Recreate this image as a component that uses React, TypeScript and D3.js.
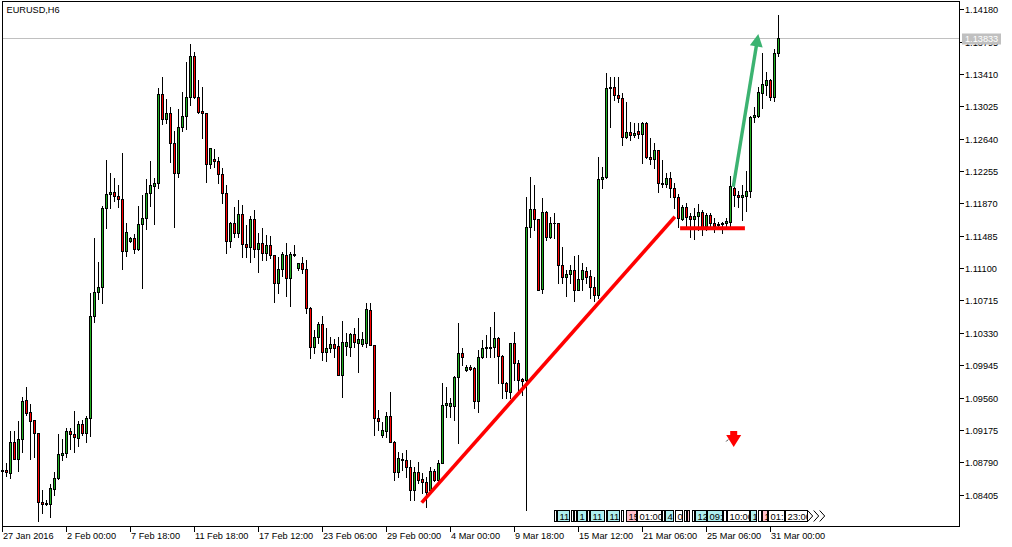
import React, { useEffect, useRef } from "react";
import * as d3 from "d3";

// EURUSD H6 candles (oldest first)
const opens = [
  1.08686, 1.08698, 1.08666, 1.09031, 1.08833, 1.09063, 1.09531, 1.09388, 1.09289, 1.09135,
  1.08321, 1.08299, 1.0829, 1.08475, 1.08599, 1.0888, 1.08897, 1.09162, 1.09123, 1.09075,
  1.09245, 1.09142, 1.09313, 1.10531, 1.10816, 1.10872, 1.11812, 1.11979, 1.12003, 1.11955,
  1.11919, 1.11301, 1.1142, 1.11455, 1.11324, 1.11622, 1.11693, 1.11991, 1.12081, 1.1211,
  1.13172, 1.12879, 1.12943, 1.12593, 1.12229, 1.12783, 1.12914, 1.13133, 1.13625, 1.13133,
  1.12974, 1.12943, 1.12336, 1.12395, 1.12379, 1.12217, 1.11991, 1.11427, 1.11634, 1.11515,
  1.11744, 1.11384, 1.11355, 1.11681, 1.11324, 1.11396, 1.11277, 1.11372, 1.11256, 1.1092,
  1.11086, 1.11256, 1.10986, 1.11262, 1.11098, 1.11158, 1.11086, 1.10622, 1.10165, 1.10277,
  1.10435, 1.10106, 1.10146, 1.10194, 1.10174, 1.09829, 1.10174, 1.10158, 1.10316, 1.10206,
  1.10197, 1.10206, 1.10602, 1.10186, 1.09313, 1.09115, 1.09166, 1.09341, 1.09035, 1.08678,
  1.08813, 1.08813, 1.0873, 1.0846, 1.08671, 1.08591, 1.08552, 1.0846, 1.0869, 1.08579,
  1.08785, 1.09468, 1.09463, 1.09463, 1.09808, 1.10094, 1.09888, 1.0992, 1.09908, 1.09523,
  1.10039, 1.10146, 1.10146, 1.10165, 1.10265, 1.10055, 1.0973, 1.0963, 1.10206, 1.09968,
  1.09777, 1.09769, 1.11586, 1.118, 1.11681, 1.10848, 1.11772, 1.11467, 1.11634, 1.11634,
  1.11138, 1.10998, 1.1103, 1.11078, 1.1084, 1.10967, 1.1107, 1.11007, 1.10872, 1.10781,
  1.12157, 1.12181, 1.1324, 1.13252, 1.1316, 1.13121, 1.12657, 1.12724, 1.12685, 1.12736,
  1.12696, 1.12824, 1.12426, 1.12395, 1.12506, 1.12117, 1.12098, 1.12169, 1.1205, 1.1195,
  1.11681, 1.11824, 1.11721, 1.11681, 1.11721, 1.11765, 1.11602, 1.11732, 1.11634, 1.1161,
  1.11622, 1.11634, 1.11653, 1.1205, 1.1197, 1.1195, 1.11959, 1.12022, 1.12902, 1.12911,
  1.13188, 1.13283, 1.13339, 1.1314, 1.13657,
];
const highs = [
  1.08706, 1.08785, 1.09166, 1.09166, 1.09285, 1.0957, 1.09689, 1.09483, 1.09293, 1.09142,
  1.0846, 1.08341, 1.08528, 1.08671, 1.09126, 1.09063, 1.09198, 1.09194, 1.094, 1.09278,
  1.09293, 1.09344, 1.10808, 1.11462, 1.11173, 1.1184, 1.12387, 1.12229, 1.12169, 1.1209,
  1.12474, 1.11641, 1.11474, 1.11503, 1.1184, 1.1197, 1.12157, 1.12379, 1.12169, 1.1324,
  1.13371, 1.13109, 1.13014, 1.12732, 1.1299, 1.13196, 1.13557, 1.13767, 1.13672, 1.13339,
  1.13259, 1.12946, 1.1253, 1.12514, 1.12419, 1.12288, 1.1209, 1.11653, 1.11828, 1.11911,
  1.11852, 1.11614, 1.11721, 1.11792, 1.11515, 1.11574, 1.11494, 1.11483, 1.1126, 1.11236,
  1.11296, 1.11403, 1.11296, 1.11375, 1.11161, 1.11236, 1.11197, 1.10641, 1.10364, 1.10463,
  1.10531, 1.10384, 1.10277, 1.1026, 1.10284, 1.10475, 1.10332, 1.10332, 1.10384, 1.10503,
  1.1034, 1.10682, 1.10682, 1.1019, 1.09412, 1.09273, 1.09392, 1.0963, 1.0904, 1.08916,
  1.08897, 1.08936, 1.08817, 1.0873, 1.08797, 1.08659, 1.08618, 1.08737, 1.08706, 1.08817,
  1.0973, 1.09689, 1.09551, 1.09817, 1.10444, 1.10146, 1.09948, 1.09948, 1.09927, 1.10126,
  1.10245, 1.10305, 1.10403, 1.10575, 1.10284, 1.10067, 1.0974, 1.1021, 1.10344, 1.10007,
  1.09789, 1.1195, 1.12188, 1.1209, 1.11685, 1.11931, 1.1178, 1.11712, 1.1176, 1.1164,
  1.11355, 1.11078, 1.11138, 1.11245, 1.11256, 1.11158, 1.11117, 1.11078, 1.10991, 1.12426,
  1.123, 1.13426, 1.13378, 1.13371, 1.13378, 1.13181, 1.13081, 1.12843, 1.12831, 1.12831,
  1.12843, 1.12843, 1.12645, 1.12586, 1.1251, 1.12387, 1.12236, 1.12248, 1.1211, 1.11982,
  1.11852, 1.11872, 1.11753, 1.11812, 1.11863, 1.11792, 1.11753, 1.11753, 1.11693, 1.11653,
  1.11653, 1.11693, 1.12197, 1.1206, 1.12022, 1.1209, 1.1226, 1.1291, 1.13021, 1.13259,
  1.13657, 1.13438, 1.13345, 1.13704, 1.14113,
];
const lows = [
  1.08599, 1.08627, 1.08599, 1.08823, 1.0869, 1.08916, 1.09353, 1.08825, 1.08849, 1.08095,
  1.0819, 1.08281, 1.08142, 1.084, 1.08591, 1.08817, 1.08856, 1.08944, 1.08916, 1.08987,
  1.09115, 1.09035, 1.09103, 1.10463, 1.10737, 1.10689, 1.11574, 1.11812, 1.11903, 1.11824,
  1.11086, 1.11245, 1.11415, 1.11277, 1.11316, 1.1086, 1.11562, 1.11843, 1.11622, 1.1205,
  1.12815, 1.12831, 1.12367, 1.11593, 1.12188, 1.12736, 1.12752, 1.13042, 1.13125, 1.12943,
  1.12645, 1.12129, 1.12288, 1.123, 1.12117, 1.11872, 1.11277, 1.11355, 1.11474, 1.11467,
  1.11236, 1.11236, 1.11177, 1.11236, 1.11058, 1.11197, 1.11197, 1.11217, 1.10701, 1.10801,
  1.11007, 1.10769, 1.1065, 1.11245, 1.11078, 1.11039, 1.10563, 1.10027, 1.10087, 1.10206,
  1.10007, 1.09995, 1.10102, 1.10046, 1.09823, 1.0957, 1.10067, 1.10055, 1.10165, 1.09868,
  1.10174, 1.10165, 1.1018, 1.09115, 1.09174, 1.09094, 1.09094, 1.09031, 1.08579, 1.08618,
  1.08698, 1.08618, 1.08341, 1.08341, 1.0854, 1.08421, 1.08261, 1.08421, 1.08567, 1.08559,
  1.08781, 1.09332, 1.09332, 1.09293, 1.09023, 1.09948, 1.0988, 1.09888, 1.09432, 1.09392,
  1.10027, 1.10039, 1.10046, 1.10039, 1.0973, 1.09551, 1.09551, 1.09551, 1.09769, 1.0963,
  1.0959, 1.08222, 1.11474, 1.11554, 1.10834, 1.10801, 1.11435, 1.11455, 1.11455, 1.1092,
  1.10927, 1.10769, 1.1092, 1.10713, 1.10834, 1.1084, 1.1092, 1.10741, 1.10709, 1.10745,
  1.1205, 1.12169, 1.12783, 1.13101, 1.13081, 1.12566, 1.12645, 1.12625, 1.12664, 1.12645,
  1.12348, 1.12407, 1.12339, 1.12288, 1.1201, 1.12069, 1.12069, 1.1195, 1.11812, 1.11593,
  1.11673, 1.11593, 1.11474, 1.11443, 1.11554, 1.11494, 1.11554, 1.11593, 1.11534, 1.11574,
  1.11522, 1.11574, 1.11593, 1.1184, 1.11831, 1.11673, 1.11784, 1.1195, 1.12843, 1.12902,
  1.13002, 1.1316, 1.13101, 1.13093, 1.13625,
];
const closes = [
  1.08698, 1.08671, 1.09031, 1.08833, 1.09063, 1.09523, 1.09373, 1.09285, 1.09135, 1.08321,
  1.0829, 1.08302, 1.0848, 1.08599, 1.08885, 1.08897, 1.09162, 1.09123, 1.09087, 1.09245,
  1.09142, 1.09313, 1.10531, 1.10813, 1.10872, 1.11812, 1.11982, 1.12003, 1.11955, 1.11919,
  1.11301, 1.11527, 1.11455, 1.11324, 1.11622, 1.11693, 1.11991, 1.1209, 1.12117, 1.13172,
  1.12871, 1.12943, 1.12593, 1.12229, 1.12776, 1.12914, 1.13133, 1.13625, 1.13133, 1.12962,
  1.12943, 1.12336, 1.12526, 1.12379, 1.12217, 1.11991, 1.11427, 1.11641, 1.11515, 1.11744,
  1.11384, 1.11355, 1.11681, 1.11324, 1.11396, 1.11284, 1.11372, 1.11256, 1.1092, 1.11086,
  1.11265, 1.10986, 1.11265, 1.11265, 1.11158, 1.11086, 1.10622, 1.10165, 1.10277, 1.10435,
  1.10106, 1.10146, 1.10197, 1.10146, 1.09829, 1.10221, 1.10221, 1.10316, 1.10221, 1.10253,
  1.10253, 1.1061, 1.10186, 1.09313, 1.09285, 1.09174, 1.09341, 1.09035, 1.08678, 1.08837,
  1.08829, 1.0873, 1.0846, 1.08671, 1.08579, 1.08552, 1.0844, 1.0869, 1.08579, 1.08785,
  1.09472, 1.09492, 1.09492, 1.09808, 1.10094, 1.10046, 1.0992, 1.09896, 1.09523, 1.10039,
  1.10146, 1.10165, 1.10165, 1.10265, 1.10055, 1.0973, 1.09642, 1.10206, 1.09968, 1.09769,
  1.09761, 1.11586, 1.118, 1.11681, 1.1084, 1.11772, 1.11467, 1.11641, 1.11641, 1.11138,
  1.10998, 1.1103, 1.11078, 1.1084, 1.10967, 1.11078, 1.10998, 1.10872, 1.10781, 1.12157,
  1.12188, 1.1324, 1.13252, 1.1316, 1.13121, 1.12657, 1.12724, 1.12685, 1.12712, 1.12696,
  1.12824, 1.12419, 1.12395, 1.12506, 1.12117, 1.12098, 1.12169, 1.1205, 1.1195, 1.11693,
  1.11824, 1.11712, 1.11681, 1.11721, 1.11765, 1.11593, 1.11732, 1.11634, 1.11602, 1.11625,
  1.11637, 1.11661, 1.12074, 1.1197, 1.11943, 1.1197, 1.12022, 1.12902, 1.12923, 1.13196,
  1.13291, 1.13339, 1.1314, 1.13664, 1.13833,
];

// time axis: a label every 16 bars
const timeLabels = [
  "27 Jan 2016", "2 Feb 00:00", "7 Feb 18:00", "11 Feb 18:00", "17 Feb 12:00", "23 Feb 06:00",
  "29 Feb 00:00", "4 Mar 00:00", "9 Mar 18:00", "15 Mar 12:00", "21 Mar 06:00", "25 Mar 06:00",
  "31 Mar 00:00",
];
const priceTicks = [
  1.0840, 1.0879, 1.09175, 1.0956, 1.09945, 1.1033, 1.10715, 1.111, 1.11485, 1.1187, 1.12255,
  1.1264, 1.13025, 1.1341, 1.13795, 1.1418,
].map((v, k) => (k === 0 ? 1.08405 : v));
const lastPrice = 1.13833;

// drawn objects: [bar, price]
const supportTrend = [[104.8, 1.08309], [168.1, 1.11712]];
const flatLine = [[169.4, 1.11574], [185.6, 1.11574]];
const upArrow = [[182.7, 1.12069], [188.95, 1.13886]];
const sellMark = [182.8, 1.09162];

// calendar strip along the bottom (in bar units)
const eventStart = [137.8, 138.6, 142.0, 142.8, 143.65, 146.15, 146.8, 150.8, 151.15, 154.6, 155.8, 158.65, 164.75, 165.6, 168.1, 170.3, 171.1, 172.25, 173.1, 176.1, 180.15, 181.15, 186.8, 188.9, 189.75, 191.4, 195.6];
const eventEnd = [138.6, 141.8, 142.5, 143.5, 146.0, 146.65, 150.6, 151.15, 154.3, 155.3, 158.65, 164.75, 165.6, 167.8, 170.1, 170.8, 171.8, 173.1, 176.1, 180.1, 181.0, 186.8, 188.65, 189.75, 191.4, 195.6, 201.3];
const eventText = ["", "11", "", "", "1", "", "11", "", "11", "", "15", "01:00", "", "4", "09", "", "", "", "12", "09:", "", "10:00", "1", "", "1", "01:", "23:00"];
const eventKind = ["w", "c", "w", "w", "c", "w", "c", "w", "c", "w", "p", "w", "w", "c", "w", "w", "p", "w", "c", "c", "w", "w", "c", "w", "p", "w", "w"];

const FONT = "'Liberation Sans', Arial, sans-serif";
const BULL = "#20b020";
const BEAR = "#ff0000";

export default function App() {
  const ref = useRef<SVGSVGElement>(null);

  useEffect(() => {
    const svg = d3.select(ref.current);
    svg.selectAll("*").remove();

    const left = 2.5, top = 1.5, right = 959.5, bottom = 526.5;

    const x = d3.scaleLinear().domain([0, 194]).range([2.5, 778.5]);
    const y = d3.scaleLinear().domain([1.08405, 1.1418]).range([494.6, 9.3]);
    const ry = (v: number) => Math.round(y(v)) + 0.5;

    svg.append("rect").attr("width", 1012).attr("height", 547).attr("fill", "#fff");

    // bid line
    svg.append("line")
      .attr("x1", left).attr("x2", right)
      .attr("y1", ry(lastPrice)).attr("y2", ry(lastPrice))
      .attr("stroke", "#c0c0c0");

    // candles
    const g = svg.append("g").attr("shape-rendering", "crispEdges");
    d3.range(opens.length).forEach((i) => {
      const cx = x(i);
      const o = opens[i], c = closes[i];
      g.append("line")
        .attr("x1", cx).attr("x2", cx)
        .attr("y1", ry(highs[i]) - 0.5).attr("y2", ry(lows[i]) + 0.5)
        .attr("stroke", "#000");
      const t = ry(Math.max(o, c));
      const b = ry(Math.min(o, c));
      if (b - t < 1) {
        g.append("line")
          .attr("x1", cx - 1.5).attr("x2", cx + 1.5)
          .attr("y1", t).attr("y2", t)
          .attr("stroke", "#000");
      } else {
        g.append("rect")
          .attr("x", cx - 1).attr("y", t)
          .attr("width", 2).attr("height", b - t)
          .attr("fill", c >= o ? BULL : BEAR)
          .attr("stroke", "#000");
      }
    });

    // red support trend line
    const line = d3.line<number[]>().x((d) => x(d[0])).y((d) => y(d[1]));
    svg.append("path").attr("d", line(supportTrend))
      .attr("stroke", BEAR).attr("stroke-width", 3.6).attr("fill", "none");
    svg.append("path").attr("d", line(flatLine))
      .attr("stroke", BEAR).attr("stroke-width", 4).attr("fill", "none");

    // green arrow
    const [ax0, ay0] = [x(upArrow[0][0]), y(upArrow[0][1])];
    const [ax1, ay1] = [x(upArrow[1][0]), y(upArrow[1][1])];
    const len = Math.hypot(ax1 - ax0, ay1 - ay0);
    const ux = (ax1 - ax0) / len, uy = (ay1 - ay0) / len;
    const headL = 12.5, headW = 6.5;
    const bx = ax1 - ux * headL, by = ay1 - uy * headL;
    svg.append("line")
      .attr("x1", ax0).attr("y1", ay0).attr("x2", bx + ux * 2).attr("y2", by + uy * 2)
      .attr("stroke", "#3cb371").attr("stroke-width", 3.4);
    svg.append("path")
      .attr("d", `M${ax1},${ay1}L${bx - uy * headW},${by + ux * headW}L${bx + uy * headW},${by - ux * headW}Z`)
      .attr("fill", "#3cb371");

    // sell arrow mark
    const sx = x(sellMark[0]), sy = y(sellMark[1]);
    svg.append("path")
      .attr("d", `M${sx - 3.5},${sy}H${sx + 3.5}V${sy + 4}H${sx + 7.5}L${sx},${sy + 16}L${sx - 7.5},${sy + 4}H${sx - 3.5}Z`)
      .attr("fill", BEAR);
    svg.append("line")
      .attr("x1", sx - 7.5).attr("y1", sy + 10.5).attr("x2", sx - 5.5).attr("y2", sy + 8.5)
      .attr("stroke", "#000").attr("stroke-width", 0.8);

    // calendar strip
    const defs = svg.append("defs");
    const ev = svg.append("g").attr("shape-rendering", "crispEdges");
    const fills: Record<string, string> = { w: "#ffffff", c: "#aeeeee", p: "#ffc0cb" };
    eventStart.forEach((s, k) => {
      const x0 = Math.round(x(s)) + 0.5;
      const x1 = Math.round(x(eventEnd[k])) - 0.5;
      const w = Math.max(x1 - x0, 1.5);
      ev.append("rect")
        .attr("x", x0).attr("y", 510.5).attr("width", w).attr("height", 11)
        .attr("fill", fills[eventKind[k]]).attr("stroke", "#000");
      if (eventText[k]) {
        const id = `evclip${k}`;
        defs.append("clipPath").attr("id", id)
          .append("rect").attr("x", x0 + 1).attr("y", 511).attr("width", w - 1).attr("height", 10);
        ev.append("text")
          .attr("x", x0 + 2).attr("y", 520)
          .attr("clip-path", `url(#${id})`)
          .attr("font-family", FONT).attr("font-size", 9.4)
          .attr("fill", "#000")
          .text(eventText[k]);
      }
    });
    const chev0 = x(eventEnd[eventEnd.length - 1]);
    [0, 6, 12].forEach((d) => {
      svg.append("path")
        .attr("d", `M${chev0 + d},510.5L${chev0 + d + 5},516L${chev0 + d},521.5`)
        .attr("stroke", "#000").attr("fill", "none");
    });

    // frame
    svg.append("path")
      .attr("d", `M${left},${top}H${right}V${bottom}H${left}Z`)
      .attr("fill", "none").attr("stroke", "#000")
      .attr("shape-rendering", "crispEdges");

    // price axis
    const ax = svg.append("g").attr("font-family", FONT).attr("font-size", 9.2);
    priceTicks.forEach((p) => {
      const yy = ry(p);
      ax.append("line").attr("x1", right).attr("x2", right + 4)
        .attr("y1", yy).attr("y2", yy).attr("stroke", "#000")
        .attr("shape-rendering", "crispEdges");
      ax.append("text").attr("x", 965).attr("y", yy + 3.3).attr("fill", "#000").text(p.toFixed(5));
    });
    const ly = ry(lastPrice);
    ax.append("rect").attr("x", 962).attr("y", ly - 5).attr("width", 39).attr("height", 11).attr("fill", "#c0c0c0");
    ax.append("text").attr("x", 965).attr("y", ly + 3.4).attr("fill", "#fff").text(lastPrice.toFixed(5));

    // time axis
    const tx = svg.append("g").attr("font-family", FONT).attr("font-size", 9.2);
    timeLabels.forEach((lab, k) => {
      const xx = x(k * 16);
      tx.append("line").attr("x1", xx).attr("x2", xx).attr("y1", bottom).attr("y2", bottom + 5.5)
        .attr("stroke", "#000").attr("shape-rendering", "crispEdges");
      tx.append("text").attr("x", xx + 0.5).attr("y", 538.8).attr("fill", "#000").text(lab);
    });

    // symbol title
    svg.append("text")
      .attr("x", 6.5).attr("y", 13)
      .attr("font-family", FONT).attr("font-size", 9.2)
      .attr("fill", "#000")
      .text("EURUSD,H6");
  }, []);

  return (
    <div style={{ position: "absolute", left: 0, top: 0 }}>
      <svg ref={ref} width={1012} height={547} style={{ display: "block" }} />
    </div>
  );
}
